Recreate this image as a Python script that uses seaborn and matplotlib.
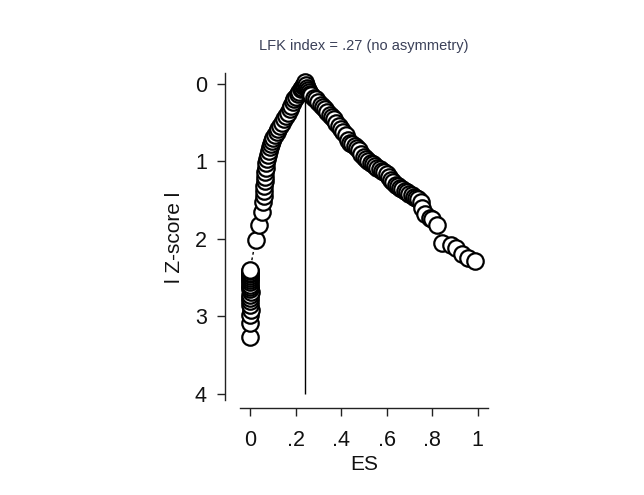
import matplotlib
matplotlib.use("Agg")
import matplotlib.pyplot as plt
import seaborn as sns
import pandas as pd

# Doi plot: effect size against absolute Z-score, one point per study
es_values = [
    0.000, 0.002, 0.000, 0.003, 0.001, 0.000, 0.002, 0.000, 0.003, 0.001,
    0.000, 0.002, 0.001, 0.000, 0.002, 0.001, 0.000, 0.002, 0.001, 0.000,
    0.025, 0.040, 0.051, 0.058, 0.060, 0.062, 0.063, 0.065, 0.066, 0.068,
    0.070, 0.072, 0.074, 0.078, 0.082, 0.087, 0.092, 0.097, 0.103, 0.110,
    0.117, 0.125, 0.133, 0.141, 0.150, 0.158, 0.166, 0.174, 0.181, 0.188,
    0.195, 0.202, 0.209, 0.216, 0.222, 0.228, 0.233, 0.238, 0.242,
    0.245, 0.250, 0.255, 0.260, 0.265, 0.270, 0.280, 0.290, 0.300, 0.310,
    0.320, 0.330, 0.340, 0.350, 0.360, 0.370, 0.380, 0.390, 0.400, 0.410,
    0.420, 0.430, 0.440, 0.450, 0.460, 0.470, 0.480, 0.490, 0.500, 0.510,
    0.520, 0.530, 0.540, 0.550, 0.560, 0.570, 0.580, 0.590, 0.600, 0.610,
    0.620, 0.630, 0.640, 0.650, 0.660, 0.670, 0.680, 0.690, 0.700, 0.710,
    0.720, 0.730, 0.740, 0.750, 0.755, 0.770, 0.790, 0.800, 0.820, 0.845,
    0.885, 0.905, 0.930, 0.960, 0.990,
]
abs_z = [
    3.27, 3.09, 2.98, 2.92, 2.86, 2.80, 2.76, 2.72, 2.68, 2.65,
    2.62, 2.59, 2.56, 2.53, 2.50, 2.48, 2.46, 2.44, 2.42, 2.40,
    2.01, 1.82, 1.65, 1.52, 1.45, 1.38, 1.32, 1.26, 1.20, 1.14,
    1.08, 1.02, 0.97, 0.92, 0.87, 0.82, 0.78, 0.74, 0.70, 0.66,
    0.62, 0.58, 0.55, 0.51, 0.46, 0.42, 0.38, 0.33, 0.28, 0.24,
    0.20, 0.17, 0.13, 0.10, 0.07, 0.05, 0.03, 0.01, -0.02,
    0.02, 0.05, 0.08, 0.10, 0.13, 0.15, 0.18, 0.20, 0.24, 0.27,
    0.30, 0.33, 0.36, 0.40, 0.43, 0.46, 0.50, 0.55, 0.58, 0.62,
    0.66, 0.72, 0.76, 0.78, 0.80, 0.83, 0.86, 0.90, 0.94, 0.97,
    1.00, 1.02, 1.04, 1.06, 1.08, 1.10, 1.12, 1.14, 1.16, 1.20,
    1.24, 1.27, 1.30, 1.32, 1.34, 1.36, 1.38, 1.40, 1.42, 1.44,
    1.46, 1.47, 1.49, 1.52, 1.60, 1.68, 1.73, 1.75, 1.82, 2.05,
    2.08, 2.12, 2.20, 2.25, 2.28,
]
x_ticks = [0, 0.2, 0.4, 0.6, 0.8, 1.0]
x_tick_labels = ["0", ".2", ".4", ".6", ".8", "1"]
y_ticks = [0, 1, 2, 3, 4]
y_tick_labels = ["0", "1", "2", "3", "4"]
peak_es = 0.242
lfk_index = ".27"

df = pd.DataFrame({"ES": es_values, "Z": abs_z})

sns.set_theme(style="ticks")
plt.rcParams["font.family"] = ["Liberation Sans", "DejaVu Sans"]

W, H = 644, 495
fig = plt.figure(figsize=(W / 100, H / 100), dpi=100)
fig.patch.set_facecolor("white")
ax = fig.add_axes([240 / W, 1 - 400 / H, (488 - 240) / W, (400 - 73) / H])

# connecting dashed line, then the open circles on top
sns.lineplot(data=df, x="ES", y="Z", ax=ax, sort=False, estimator=None,
             color="black", linestyle=(0, (2, 2)), linewidth=1.0, zorder=1)
sns.scatterplot(data=df, x="ES", y="Z", ax=ax, s=140, facecolor="white",
                edgecolor="black", linewidth=1.6, zorder=3, clip_on=False)

ax.vlines(peak_es, 0, 4, color="black", linewidth=1.0, zorder=0)

ax.set_xlim(-0.044, 1.046)
ax.set_ylim(4.08, -0.14)
ax.set_xticks(x_ticks, x_tick_labels)
ax.set_yticks(y_ticks, y_tick_labels)
ax.tick_params(axis="both", labelsize=15.5, length=6, width=1.0, color="#222222",
               labelcolor="#111111")
ax.tick_params(axis="y", pad=7)
ax.tick_params(axis="x", pad=10)

for side in ("top", "right"):
    ax.spines[side].set_visible(False)
ax.spines["left"].set_position(("outward", 10.8))
ax.spines["bottom"].set_position(("outward", 5.8))
for side in ("left", "bottom"):
    ax.spines[side].set_linewidth(1.0)
    ax.spines[side].set_color("#222222")

ax.set_xlabel("")
ax.set_ylabel("")
fig.text(364 / W, 1 - 465 / H, "ES", ha="center", va="center",
         fontsize=15, color="#111111")
fig.text(175 / W, 1 - 237 / H, "l Z-score l", ha="center", va="center",
         rotation=90, fontsize=15, color="#111111")
fig.text(364 / W, 1 - 46 / H, f"LFK index = {lfk_index} (no asymmetry)",
         ha="center", va="center", fontsize=10.5, color="#3a4058")

fig.savefig("out.png", dpi=100, facecolor="white")
